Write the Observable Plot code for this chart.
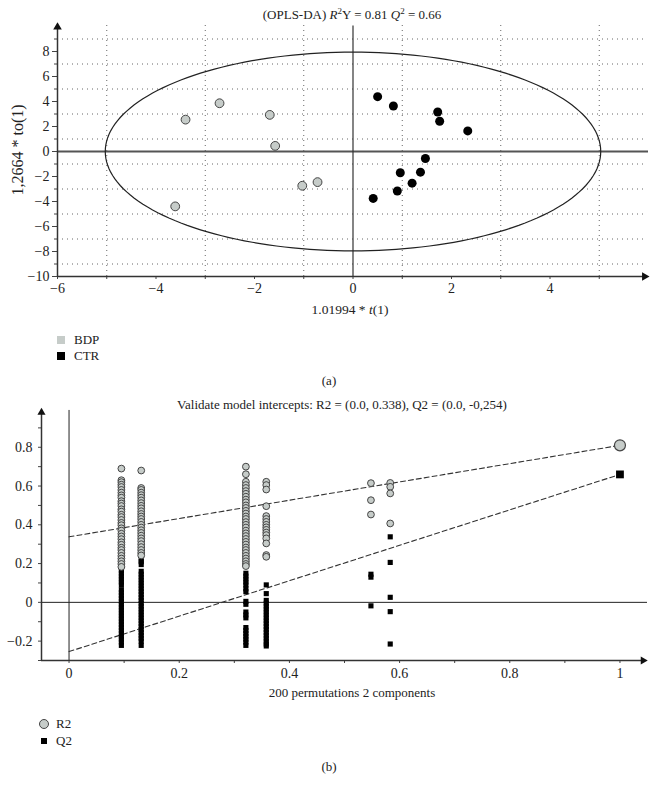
<!DOCTYPE html>
<html><head><meta charset="utf-8">
<script src="https://cdn.jsdelivr.net/npm/d3@7"></script>
<script src="https://cdn.jsdelivr.net/npm/@observablehq/plot@0.6"></script>
<style>
body{margin:0;background:#fff;}
#wrap{position:relative;width:658px;height:793px;font-family:"Liberation Serif",serif;color:#222;font-size:13px;background:#fff;overflow:hidden;}
.t{position:absolute;line-height:16px;white-space:nowrap;}
.c{transform:translateX(-50%);}
.plot{position:absolute;left:0;}
svg{display:block}
#wrap svg text{font-family:"Liberation Serif",serif !important;font-size:14px !important;fill:#222;}
sup{font-size:9px;line-height:0;vertical-align:5px;}
</style></head><body><div id="wrap">
<div class="t c" style="left:352px;top:7px;">(OPLS-DA) <i>R</i><sup>2</sup>Y = 0.81 <i>Q</i><sup>2</sup> = 0.66</div>
<div id="p1" class="plot" style="top:0px;"></div>
<div class="t" style="left:18px;top:150px;font-size:16px;transform:translate(-50%,-50%) rotate(-90deg);">1,2664 * to(1)</div>
<div class="t c" style="left:350px;top:302px;font-size:13.5px;">1.01994 * <i>t</i>(1)</div>
<div class="t" style="left:57px;top:336px;width:8px;height:8px;background:#c6ccc9;"></div>
<div class="t" style="left:74px;top:332px;">BDP</div>
<div class="t" style="left:57px;top:352px;width:8px;height:8px;background:#000;"></div>
<div class="t" style="left:74px;top:348px;">CTR</div>
<div class="t c" style="left:329px;top:373px;">(a)</div>
<div class="t c" style="left:342px;top:397px;">Validate model intercepts: R2 = (0.0, 0.338), Q2 = (0.0, -0,254)</div>
<div id="p2" class="plot" style="top:390px;"></div>
<div class="t c" style="left:352px;top:685px;">200 permutations 2 components</div>
<div class="t" style="left:39px;top:719px;width:8px;height:8px;border-radius:50%;background:#c6ccc9;border:1px solid #444;"></div>
<div class="t" style="left:56px;top:716px;">R2</div>
<div class="t" style="left:41px;top:738px;width:6px;height:6px;background:#000;"></div>
<div class="t" style="left:56px;top:733px;">Q2</div>
<div class="t c" style="left:329px;top:759px;">(b)</div>
</div>
<script>
// ---------- (a) OPLS-DA scores ----------
const bdpX = [-3.40, -2.71, -1.69, -1.58, -1.03, -0.72, -3.61];
const bdpY = [2.55, 3.86, 2.93, 0.45, -2.74, -2.45, -4.39];
const ctrX = [0.50, 0.82, 1.72, 1.76, 2.33, 1.47, 0.96, 1.37, 1.20, 0.90, 0.41];
const ctrY = [4.39, 3.64, 3.16, 2.42, 1.65, -0.56, -1.70, -1.65, -2.53, -3.16, -3.75];
const ellipseA = 5.03, ellipseB = 7.95;
const ticksX1 = [-6, -4, -2, 0, 2, 4];
const minorX1 = [-5, -3, -1, 1, 3, 5];
const ticksY1 = [-10, -8, -6, -4, -2, 0, 2, 4, 6, 8];
const minorY1 = [-9, -7, -5, -3, -1, 1, 3, 5, 7, 9];

// ---------- (b) permutation test ----------
const permX = [0.095, 0.131, 0.321, 0.358, 0.548, 0.583];
const r2Perm = [
  [0.69, 0.63, 0.62, 0.607, 0.595, 0.58, 0.566, 0.552, 0.54, 0.522, 0.51, 0.497, 0.48, 0.468, 0.452, 0.44, 0.425, 0.41, 0.398, 0.382, 0.37, 0.354, 0.34, 0.326, 0.31, 0.297, 0.282, 0.27, 0.255, 0.24, 0.226, 0.212, 0.198, 0.183],
  [0.68, 0.59, 0.58, 0.566, 0.553, 0.54, 0.526, 0.512, 0.498, 0.485, 0.47, 0.456, 0.443, 0.43, 0.415, 0.40, 0.386, 0.372, 0.358, 0.344, 0.33, 0.316, 0.30, 0.285, 0.27, 0.255, 0.242],
  [0.70, 0.661, 0.622, 0.605, 0.59, 0.574, 0.56, 0.545, 0.53, 0.516, 0.50, 0.487, 0.472, 0.458, 0.443, 0.43, 0.414, 0.40, 0.386, 0.37, 0.356, 0.342, 0.327, 0.312, 0.298, 0.283, 0.27, 0.255, 0.24, 0.226, 0.212, 0.198, 0.187],
  [0.622, 0.605, 0.582, 0.496, 0.445, 0.43, 0.415, 0.40, 0.387, 0.374, 0.36, 0.347, 0.33, 0.304, 0.244, 0.235],
  [0.615, 0.527, 0.453],
  [0.616, 0.596, 0.562, 0.407]
];
const q2Perm = [
  [0.47, 0.45, 0.43, 0.35, 0.26, 0.24, 0.225, 0.21, 0.165, 0.15, 0.135, 0.12, 0.105, 0.09, 0.065, 0.05, 0.035, 0.02, 0.005, -0.01, -0.025, -0.04, -0.055, -0.07, -0.085, -0.10, -0.115, -0.13, -0.145, -0.16, -0.175, -0.19, -0.205, -0.222],
  [0.42, 0.38, 0.36, 0.34, 0.22, 0.21, 0.195, 0.16, 0.145, 0.13, 0.115, 0.10, 0.085, 0.07, 0.055, 0.04, 0.025, 0.01, -0.005, -0.02, -0.035, -0.05, -0.065, -0.08, -0.095, -0.11, -0.125, -0.14, -0.155, -0.17, -0.185, -0.20, -0.222],
  [0.33, 0.31, 0.29, 0.27, 0.26, 0.15, 0.135, 0.12, 0.105, 0.09, 0.07, 0.055, 0.005, -0.01, -0.05, -0.065, -0.08, -0.13, -0.145, -0.16, -0.175, -0.19, -0.205, -0.222],
  [0.38, 0.37, 0.36, 0.09, 0.045, 0.01, -0.005, -0.02, -0.035, -0.05, -0.065, -0.08, -0.095, -0.11, -0.125, -0.14, -0.155, -0.17, -0.185, -0.20, -0.215, -0.225],
  [0.145, 0.13, -0.018],
  [0.338, 0.206, 0.026, -0.048, -0.215]
];
const r2Final = 0.81, q2Final = 0.66;
const r2Intercept = 0.338, q2Intercept = -0.254;
const ticksX2 = [0, 0.2, 0.4, 0.6, 0.8, 1];
const minorX2 = [0.1, 0.3, 0.5, 0.7, 0.9];
const ticksY2 = [-0.2, 0, 0.2, 0.4, 0.6, 0.8];
const minorY2 = [-0.3, -0.1, 0.1, 0.3, 0.5, 0.7, 0.9];

const serif = {fontFamily: "'Liberation Serif', serif", fontSize: "14px", color: "#222", background: "transparent", overflow: "visible"};
const tf = {fontFamily: "Liberation Serif", fontSize: 14, fill: "#222"};

// build tables
const bdp = bdpX.map((x, i) => ({x, y: bdpY[i]}));
const ctr = ctrX.map((x, i) => ({x, y: ctrY[i]}));
const ellipse = d3.range(0, 361, 2).map(a => ({x: ellipseA * Math.cos(a * Math.PI / 180), y: ellipseB * Math.sin(a * Math.PI / 180)}));

const fmt = d => d === 0 ? "0" : (d < 0 ? "\u2212" + Math.abs(d) : String(d));

const p1 = Plot.plot({
  width: 658, height: 320,
  marginLeft: 57, marginRight: 10, marginTop: 23, marginBottom: 44,
  x: {domain: [-6, 6]},
  y: {domain: [-10, 10.24]},
  style: serif,
  marks: [
    Plot.ruleX(minorX1, {y1: -10, y2: 10.24, stroke: "#666", strokeDasharray: "1,4"}),
    Plot.ruleY(minorY1, {x1: -6, x2: 5.9, stroke: "#666", strokeDasharray: "1,4"}),
    Plot.ruleY([0], {x1: -6, x2: 6, stroke: "#555", strokeWidth: 2}),
    Plot.ruleX([0], {y1: -10, y2: 10.05, stroke: "#333", strokeWidth: 1.2}),
    Plot.line(ellipse, {x: "x", y: "y", stroke: "#222", strokeWidth: 1.2}),
    Plot.axisY({ticks: ticksY1, tickSize: 5, tickPadding: 3, tickFormat: fmt, label: null, stroke: "#444", ...tf}),
    Plot.axisY({ticks: minorY1, tickSize: 3, tickFormat: () => "", label: null, stroke: "#444"}),
    Plot.axisX({ticks: ticksX1, tickSize: 3, tickPadding: 4, tickFormat: fmt, label: null, stroke: "#444", ...tf}),
    Plot.axisX({ticks: minorX1, tickSize: 3, tickFormat: () => "", label: null, stroke: "#444"}),
    Plot.ruleX([-6], {y1: -10, y2: 9.9, stroke: "#333", strokeWidth: 1.5}),
    Plot.ruleY([-10], {x1: -6, x2: 5.9, stroke: "#333", strokeWidth: 1.5}),
    Plot.dot([{x: -6, y: 9.95}], {x: "x", y: "y", symbol: "triangle", r: 3.2, fill: "#111", stroke: null}),
    Plot.dot([{x: 5.92, y: -10}], {x: "x", y: "y", symbol: "triangle", r: 3.2, fill: "#111", stroke: null, rotate: 90}),
    Plot.dot(bdp, {x: "x", y: "y", r: 4.4, fill: "#c6ccc9", stroke: "#444", strokeWidth: 1}),
    Plot.dot(ctr, {x: "x", y: "y", r: 4.5, fill: "#000", stroke: null})
  ]
});
document.getElementById("p1").append(p1);

const r2Data = r2Perm.flatMap((vals, i) => vals.map(y => ({x: permX[i], y})));
const q2Data = q2Perm.flatMap((vals, i) => vals.map(y => ({x: permX[i], y})));
const r2Line = [{x: 0, y: r2Intercept}, {x: 1, y: r2Final}];
const q2Line = [{x: 0, y: q2Intercept}, {x: 1, y: q2Final}];

const p2 = Plot.plot({
  width: 658, height: 300,
  marginLeft: 41, marginRight: 11, marginTop: 18, marginBottom: 30,
  x: {domain: [-0.05, 1.05]},
  y: {domain: [-0.3, 1.0]},
  style: serif,
  marks: [
    Plot.ruleX([0], {y1: -0.3, y2: 0.99, stroke: "#222", strokeWidth: 1}),
    Plot.ruleY([0], {x1: -0.05, x2: 1.05, stroke: "#222", strokeWidth: 1}),
    Plot.line(r2Line, {x: "x", y: "y", stroke: "#333", strokeWidth: 1.1, strokeDasharray: "5,3"}),
    Plot.line(q2Line, {x: "x", y: "y", stroke: "#333", strokeWidth: 1.1, strokeDasharray: "5,3"}),
    Plot.dot(q2Data, {x: "x", y: "y", symbol: "square", r: 2.9, fill: "#000", stroke: null}),
    Plot.dot(r2Data, {x: "x", y: "y", r: 3.4, fill: "#c6ccc9", stroke: "#444", strokeWidth: 1}),
    Plot.dot([{x: 1, y: q2Final}], {x: "x", y: "y", symbol: "square", r: 4.4, fill: "#000", stroke: null}),
    Plot.dot([{x: 1, y: r2Final}], {x: "x", y: "y", r: 5.5, fill: "#c6ccc9", stroke: "#444", strokeWidth: 1.2}),
    Plot.axisY({ticks: ticksY2, tickSize: 3, tickPadding: 6, tickFormat: fmt, label: null, stroke: "#444", ...tf}),
    Plot.axisY({ticks: minorY2, tickSize: 3, tickFormat: () => "", label: null, stroke: "#444"}),
    Plot.axisX({ticks: ticksX2, tickSize: 3, tickPadding: 5, tickFormat: fmt, label: null, stroke: "#444", ...tf}),
    Plot.axisX({ticks: minorX2, tickSize: 3, tickFormat: () => "", label: null, stroke: "#444"}),
    Plot.ruleX([-0.05], {y1: -0.3, y2: 0.975, stroke: "#333", strokeWidth: 1.5}),
    Plot.ruleY([-0.3], {x1: -0.05, x2: 1.04, stroke: "#333", strokeWidth: 1.5}),
    Plot.dot([{x: -0.05, y: 0.98}], {x: "x", y: "y", symbol: "triangle", r: 3, fill: "#111", stroke: null}),
    Plot.dot([{x: 1.042, y: -0.3}], {x: "x", y: "y", symbol: "triangle", r: 3, fill: "#111", stroke: null, rotate: 90})
  ]
});
document.getElementById("p2").append(p2);
</script>
</body></html>
